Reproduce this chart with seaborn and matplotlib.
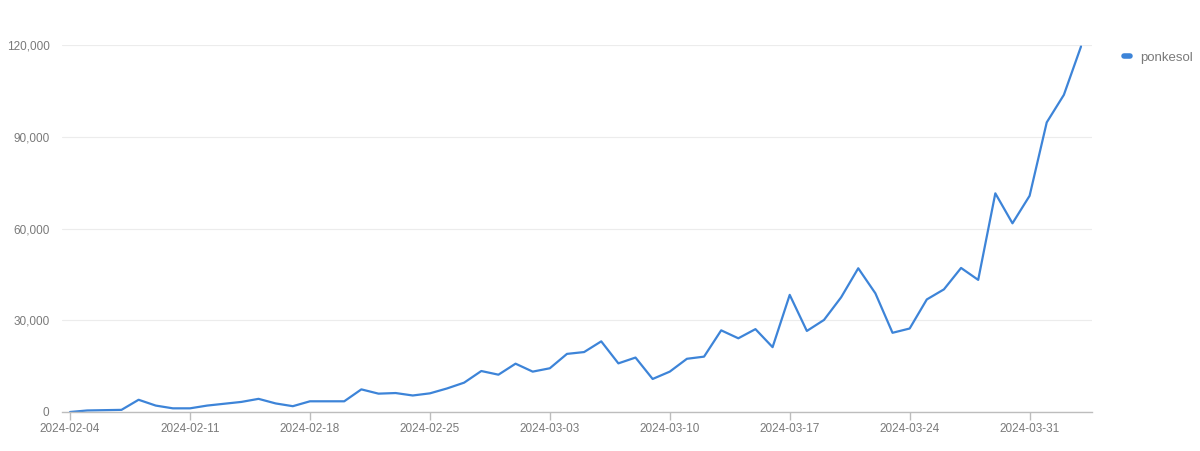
import matplotlib
matplotlib.use("Agg")
import matplotlib.pyplot as plt
from matplotlib.lines import Line2D
import seaborn as sns
import pandas as pd

start_date = "2024-02-04"
values = [0, 500, 600, 700, 4000, 2100, 1200, 1200, 2100, 2700,
          3300, 4300, 2800, 1900, 3500, 3500, 3500, 7400, 6000, 6200,
          5400, 6100, 7700, 9600, 13400, 12200, 15800, 13200, 14300, 19000,
          19600, 23100, 15900, 17800, 10800, 13200, 17400, 18100, 26700, 24100,
          27100, 21200, 38300, 26500, 30100, 37500, 47000, 38800, 25900, 27300,
          36800, 40100, 47100, 43200, 71500, 61700, 70700, 94700, 103700, 119500]
series_name = "ponkesol"
y_ticks = [0, 30000, 60000, 90000, 120000]
x_tick_labels = ["2024-02-04", "2024-02-11", "2024-02-18", "2024-02-25", "2024-03-03",
                 "2024-03-10", "2024-03-17", "2024-03-24", "2024-03-31"]

dates = pd.date_range(start_date, periods=len(values), freq="D")
df = pd.DataFrame({"date": dates, "value": values, "series": series_name})

sns.set_theme(style="white")
plt.rcParams['font.family'] = ['Liberation Sans', 'DejaVu Sans']

line_color = "#3d84d8"
text_color = "#7a7a7a"

fig = plt.figure(figsize=(12, 4.51), dpi=100)
ax = fig.add_axes([62/1200, 1 - 412/451, (1092 - 62)/1200, (412 - 45)/451])

sns.lineplot(data=df, x="date", y="value", color=line_color, linewidth=1.6, ax=ax, legend=False)

ax.set_ylim(0, 120000)
ax.set_xlim(dates[0] - pd.Timedelta(hours=11.3), dates[-1] + pd.Timedelta(hours=15.4))
ax.set_yticks(y_ticks)
ax.set_yticklabels([f"{v:,}" for v in y_ticks])
xt = pd.to_datetime(x_tick_labels)
ax.set_xticks(xt)
ax.set_xticklabels(x_tick_labels)

ax.grid(axis="y", color="#ececec", linewidth=0.8)
ax.set_axisbelow(True)
for s in ["top", "right", "left"]:
    ax.spines[s].set_visible(False)
ax.spines["bottom"].set_color("#bdbdbd")
ax.spines["bottom"].set_linewidth(1.0)
ax.tick_params(axis="x", length=6, width=1, color="#bdbdbd", colors=text_color, labelsize=8.5, pad=2, bottom=True)
ax.tick_params(axis="y", length=0, colors=text_color, labelsize=8.5, pad=9, left=False)
ax.set_xlabel("")
ax.set_ylabel("")

handle = Line2D([0], [0], color=line_color, linewidth=4, solid_capstyle="round")
fig.legend([handle], [series_name], loc="upper left", bbox_to_anchor=(1112/1200, 1 - 40/451),
           frameon=False, handlelength=0.45, handletextpad=0.75, fontsize=9.5,
           labelcolor=text_color)

fig.savefig("out.png", dpi=100, facecolor="white")
